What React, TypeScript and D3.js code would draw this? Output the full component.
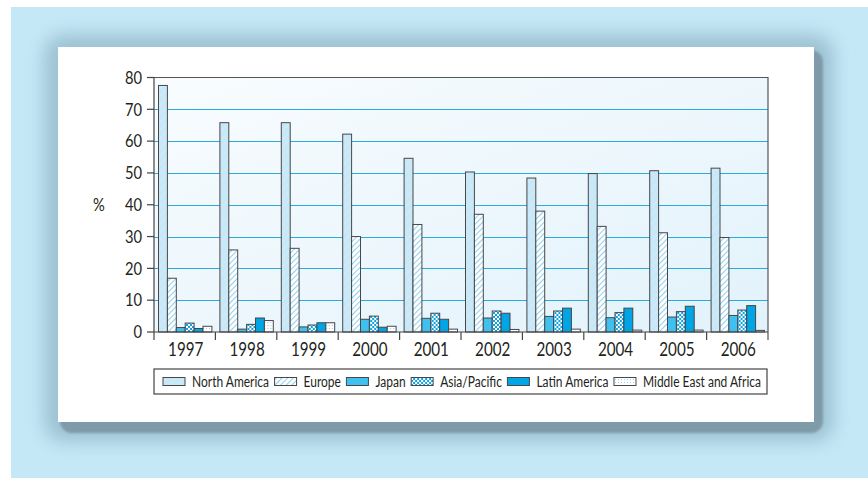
import React, { useEffect, useRef } from 'react'
import * as d3 from 'd3'

const years = ['1997', '1998', '1999', '2000', '2001', '2002', '2003', '2004', '2005', '2006']
const regions = ['North America', 'Europe', 'Japan', 'Asia/Pacific', 'Latin America', 'Middle East and Africa']

const northAmerica = [77.5, 65.8, 65.8, 62.2, 54.6, 50.3, 48.4, 49.8, 50.7, 51.5]
const europe = [16.9, 25.8, 26.3, 30.0, 33.8, 37.0, 38.0, 33.2, 31.2, 29.7]
const japan = [1.4, 0.9, 1.6, 4.0, 4.3, 4.4, 4.9, 4.5, 4.7, 5.2]
const asiaPacific = [2.8, 2.4, 2.2, 5.0, 5.9, 6.6, 6.6, 6.1, 6.4, 6.9]
const latinAmerica = [1.1, 4.4, 2.9, 1.5, 4.0, 5.9, 7.5, 7.5, 8.1, 8.3]
const middleEast = [1.8, 3.6, 2.9, 1.8, 0.9, 0.8, 0.9, 0.6, 0.6, 0.5]

const yTicks = [0, 10, 20, 30, 40, 50, 60, 70, 80]

const series = [northAmerica, europe, japan, asiaPacific, latinAmerica, middleEast]
const fills = ['url(#p-na)', 'url(#p-eu)', '#3fc0ef', 'url(#p-ap)', '#00a5e5', 'url(#p-me)']

const FONT = 'Lato, "Liberation Sans", sans-serif'
const TEXT = '#231f20'

const App: React.FC = () => {
    const ref = useRef<SVGSVGElement | null>(null)

    useEffect(() => {
        if (!ref.current) return
        const W = 868
        const H = 478
        const svg = d3.select(ref.current)
        svg.selectAll('*').remove()
        svg.attr('width', W).attr('height', H)

        const defs = svg.append('defs')

        const glow = defs.append('filter').attr('id', 'glow')
            .attr('x', '-10%').attr('y', '-10%').attr('width', '120%').attr('height', '120%')
        glow.append('feGaussianBlur').attr('stdDeviation', 9)
        const soft = defs.append('filter').attr('id', 'soft')
        soft.append('feGaussianBlur').attr('stdDeviation', 1.2)

        const grad = defs.append('linearGradient').attr('id', 'plotbg')
            .attr('x1', '0%').attr('y1', '0%').attr('x2', '100%').attr('y2', '100%')
        grad.append('stop').attr('offset', '0%').attr('stop-color', '#f8fcfe')
        grad.append('stop').attr('offset', '100%').attr('stop-color', '#e2f2fb')

        // bar patterns
        const pNa = defs.append('pattern').attr('id', 'p-na').attr('patternUnits', 'userSpaceOnUse')
            .attr('width', 6).attr('height', 6).attr('patternTransform', 'rotate(45)')
        pNa.append('rect').attr('width', 6).attr('height', 6).attr('fill', '#c8e8f8')
        pNa.append('line').attr('x1', 0).attr('y1', 0).attr('x2', 0).attr('y2', 6)
            .attr('stroke', '#d8effa').attr('stroke-width', 1)

        const pEu = defs.append('pattern').attr('id', 'p-eu').attr('patternUnits', 'userSpaceOnUse')
            .attr('width', 4).attr('height', 4).attr('patternTransform', 'rotate(45)')
        pEu.append('rect').attr('width', 4).attr('height', 4).attr('fill', '#ffffff')
        pEu.append('line').attr('x1', 0.5).attr('y1', 0).attr('x2', 0.5).attr('y2', 4)
            .attr('stroke', '#8fd0ef').attr('stroke-width', 1.1)

        const pAp = defs.append('pattern').attr('id', 'p-ap').attr('patternUnits', 'userSpaceOnUse')
            .attr('width', 4).attr('height', 4)
        pAp.append('rect').attr('width', 4).attr('height', 4).attr('fill', '#ffffff')
        pAp.append('rect').attr('width', 2).attr('height', 2).attr('fill', '#0ea3e1')
        pAp.append('rect').attr('x', 2).attr('y', 2).attr('width', 2).attr('height', 2).attr('fill', '#0ea3e1')

        const pMe = defs.append('pattern').attr('id', 'p-me').attr('patternUnits', 'userSpaceOnUse')
            .attr('width', 3).attr('height', 3)
        pMe.append('rect').attr('width', 3).attr('height', 3).attr('fill', '#ffffff')
        pMe.append('rect').attr('x', 1).attr('y', 1).attr('width', 1).attr('height', 1).attr('fill', '#8cd2f1')

        // frame
        svg.append('rect').attr('width', W).attr('height', H).attr('fill', '#ffffff')
        svg.append('rect').attr('x', 11).attr('y', 7).attr('width', W - 11).attr('height', H - 7).attr('fill', '#c5e8f7')
        svg.append('rect').attr('x', 44).attr('y', 34).attr('width', 790).attr('height', 408)
            .attr('rx', 20).attr('fill', '#9cc2d3').attr('filter', 'url(#glow)')
        svg.append('rect').attr('x', 60).attr('y', 50).attr('width', 763).attr('height', 383)
            .attr('rx', 12).attr('fill', '#7f9ba9').attr('filter', 'url(#soft)')
        svg.append('rect').attr('x', 58).attr('y', 47).attr('width', 756).attr('height', 375).attr('fill', '#ffffff')

        const left = 154
        const right = 768
        const top = 77.5
        const bottom = 332

        const x0 = d3.scaleBand<string>().domain(years).range([left, right])
        const bw = x0.bandwidth()
        const x1 = d3.scaleBand<string>().domain(regions).range([4.5, bw - 3.5])
        const y = d3.scaleLinear().domain([0, 80]).range([bottom, top])

        svg.append('rect').attr('x', left).attr('y', top).attr('width', right - left).attr('height', bottom - top)
            .attr('fill', 'url(#plotbg)')

        svg.append('g').selectAll('line').data(yTicks.filter(t => t > 0 && t < 80)).enter().append('line')
            .attr('x1', left).attr('x2', right)
            .attr('y1', d => Math.round(y(d)) + 0.5).attr('y2', d => Math.round(y(d)) + 0.5)
            .attr('stroke', '#29abe2').attr('stroke-width', 1)

        // bars
        const groups = svg.append('g').selectAll('g').data(years).enter().append('g')
            .attr('transform', d => `translate(${x0(d)},0)`)
        groups.selectAll('rect')
            .data((yr, i) => series.map((s, k) => ({ region: regions[k], value: s[i], k })))
            .enter().append('rect')
            .attr('x', d => (x1(d.region) as number))
            .attr('y', d => y(d.value))
            .attr('width', x1.bandwidth())
            .attr('height', d => bottom - y(d.value))
            .attr('fill', d => fills[d.k])
            .attr('stroke', '#474747')
            .attr('stroke-width', 1)

        // plot border top / right
        svg.append('path')
            .attr('d', `M${left},${top}H${right}V${bottom + 8}`)
            .attr('fill', 'none').attr('stroke', '#555').attr('stroke-width', 1.2)

        // axes
        svg.append('line').attr('x1', left).attr('x2', left).attr('y1', top).attr('y2', bottom + 8)
            .attr('stroke', '#444').attr('stroke-width', 1.2)
        svg.append('line').attr('x1', left).attr('x2', right).attr('y1', bottom).attr('y2', bottom)
            .attr('stroke', '#444').attr('stroke-width', 1.2)
        const yt = svg.append('g').selectAll('g').data(yTicks).enter().append('g')
        yt.append('line').attr('x1', left - 7).attr('x2', left)
            .attr('y1', d => y(d)).attr('y2', d => y(d))
            .attr('stroke', '#444').attr('stroke-width', 1.2)
        yt.append('text')
            .attr('transform', d => `translate(${left - 12},${y(d)}) scale(0.84,1)`)
            .attr('dy', '0.36em')
            .attr('text-anchor', 'end').style('font-family', FONT).style('font-size', '17.5px')
            .attr('fill', TEXT).text(d => d)

        svg.append('text')
            .attr('transform', `translate(99,${y(40)}) scale(0.84,1)`)
            .attr('dy', '0.36em')
            .attr('text-anchor', 'middle').style('font-family', FONT).style('font-size', '17.5px')
            .attr('fill', TEXT).text('%')

        svg.append('g').selectAll('line').data(years.slice(1)).enter().append('line')
            .attr('x1', d => x0(d) as number).attr('x2', d => x0(d) as number)
            .attr('y1', bottom).attr('y2', bottom + 8)
            .attr('stroke', '#444').attr('stroke-width', 1.2)
        svg.append('g').selectAll('text').data(years).enter().append('text')
            .attr('transform', d => `translate(${(x0(d) as number) + bw / 2 + 1},356) scale(0.8,1)`)
            .attr('text-anchor', 'middle').style('font-family', FONT).style('font-size', '19px')
            .attr('fill', TEXT).text(d => d)

        // legend
        const lx = 154
        const lr = 767
        const ly = 369
        const lh = 25
        const sx = 0.8
        svg.append('rect').attr('x', lx).attr('y', ly).attr('width', lr - lx).attr('height', lh)
            .attr('fill', '#ffffff').attr('stroke', '#444').attr('stroke-width', 1.2)
        const items = svg.append('g').selectAll('g').data(regions).enter().append('g')
        items.append('rect').attr('width', 22).attr('height', 8).attr('y', ly + 8.5)
            .attr('fill', (d, i) => fills[i]).attr('stroke', '#474747').attr('stroke-width', 1)
        const texts = items.append('text')
            .attr('transform', `translate(29,${ly + 12.5}) scale(${sx},1)`)
            .attr('dy', '0.37em')
            .style('font-family', FONT).style('font-size', '15px').attr('fill', TEXT)
            .text(d => d)
        const widths = texts.nodes().map(n => (n as SVGTextElement).getComputedTextLength() * sx)
        const startX = 163
        const endX = 761
        const content = widths.reduce((a, w) => a + 29 + w, 0)
        const gap = Math.max(4, (endX - startX - content) / (regions.length - 1))
        let cx = startX
        items.each(function (d, i) {
            d3.select(this).attr('transform', `translate(${cx},0)`)
            cx += 29 + widths[i] + gap
        })
    }, [])

    return <svg ref={ref} style={{ position: 'absolute', left: 0, top: 0, display: 'block' }}></svg>
}

export default App
